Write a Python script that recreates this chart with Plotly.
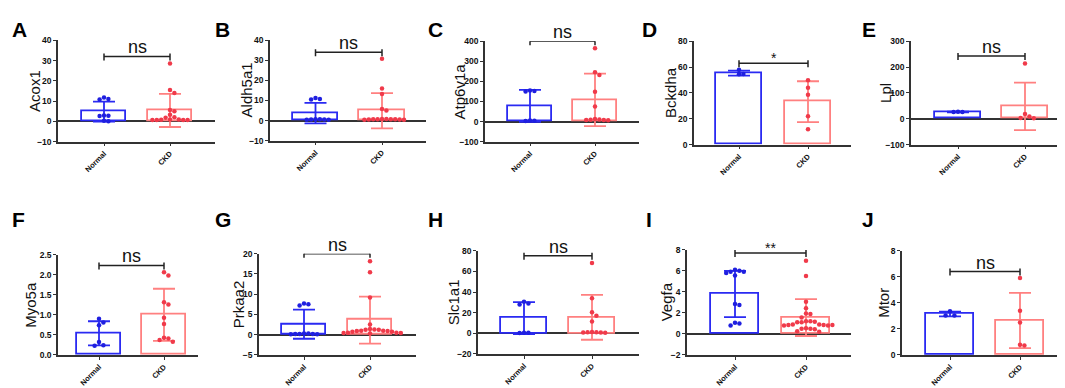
import math
import plotly.graph_objects as go

# ---------------- data ----------------
genes = ["Acox1", "Aldh5a1", "Atp6v1a", "Bckdha", "Lpl",
         "Myo5a", "Prkaa2", "Slc1a1", "Vegfa", "Mtor"]
letters = ["A", "B", "C", "D", "E", "F", "G", "H", "I", "J"]
groups = ["Normal", "CKD"]

acox1_normal = [11.8, 10.8, 11.0, 2.8, 2.6, 2.9, 0.1, 0.3]
acox1_ckd = [28.6, 15.5, 14.0, 5.6, 5.0, 3.2, 2.0, 1.8, 0.9, 0.7, 0.6, 0.8, 0.7, 0.9, 0.6]
aldh5a1_normal = [10.5, 10.7, 11.2, 0.5, 0.4, 0.6, 0.5, 0.4, 0.6]
aldh5a1_ckd = [30.8, 16.0, 13.2, 5.7, 5.0, 0.8, 0.5, 0.7, 0.4, 0.6, 0.5, 0.7, 0.6, 0.4, 0.8]
atp6v1a_normal = [155, 150, 152, 4, 3, 5]
atp6v1a_ckd = [365, 245, 232, 148, 75, 12, 8, 10, 6, 9, 7]
bckdha_normal = [57.9, 54.6, 54.4]
bckdha_ckd = [49.8, 44.0, 38.5, 21.9, 11.8]
lpl_normal = [26, 27, 26]
lpl_ckd = [214, 18, 9, 3, 2]
myo5a_normal = [0.90, 0.81, 0.74, 0.32, 0.23, 0.24]
myo5a_ckd = [2.06, 1.98, 1.31, 1.26, 0.93, 0.77, 0.41, 0.43, 0.33, 0.37]
prkaa2_normal = [7.5, 7.2, 7.7, 0.3, 0.2, 0.1, 0.3, 0.2, 0.1, 0.2]
prkaa2_ckd = [18.1, 15.4, 9.2, 2.5, 1.3, 1.2, 1.0, 0.9, 0.7, 0.5, 0.4, 0.3, 0.4,
              0.5, 0.7, 0.9, 1.0, 1.2, 1.4]
slc1a1_normal = [29.0, 28.0, 30.5, 0.5, 0.3, 0.6]
slc1a1_ckd = [68, 34, 20.5, 17, 11.5, 1.2, 0.8, 1.0, 0.6, 1.1, 0.9]
vegfa_normal = [6.1, 5.9, 6.0, 5.8, 5.9, 5.55, 2.75, 2.85, 1.05, 0.8, 1.0]
vegfa_ckd = [6.95, 5.5, 3.05, 2.45, 1.95, 1.55, 1.9, 1.2, 1.1, 1.15, 1.2, 1.1, 0.85,
             0.9, 0.8, 0.85, 0.9, 0.8, 0.85, 0.5, 0.55, 0.5, 0.45, 0.25, 0.2]
mtor_normal = [3.35, 3.03, 3.03]
mtor_ckd = [5.9, 3.4, 2.5, 0.73, 0.78]

normal_points = [acox1_normal, aldh5a1_normal, atp6v1a_normal, bckdha_normal, lpl_normal,
                 myo5a_normal, prkaa2_normal, slc1a1_normal, vegfa_normal, mtor_normal]
ckd_points = [acox1_ckd, aldh5a1_ckd, atp6v1a_ckd, bckdha_ckd, lpl_ckd,
              myo5a_ckd, prkaa2_ckd, slc1a1_ckd, vegfa_ckd, mtor_ckd]

mean_normal = [4.8, 3.7, 78, 55.3, 26, 0.54, 2.6, 14.8, 3.8, 3.14]
sd_normal = [4.9, 5.1, 80, 2.0, 1.2, 0.30, 3.6, 15.5, 2.2, 0.18]
mean_ckd = [5.4, 4.9, 108, 33.2, 48, 1.0, 3.6, 15.5, 1.55, 2.65]
sd_ckd = [8.2, 8.8, 131, 15.8, 92, 0.65, 5.8, 21.7, 1.75, 2.12]

sig_labels = ["ns", "ns", "ns", "*", "ns", "ns", "ns", "ns", "**", "ns"]
sig_level = [32, 34, 400, 63, 243, 2.23, 20, 75, 7.7, 6.4]

y_ranges = [(-10, 40), (-10, 40), (-100, 400), (0, 80), (-100, 300),
            (0, 2.5), (-5, 20), (-20, 80), (-2, 8), (0, 8)]
y_dticks = [10, 10, 100, 20, 100, 0.5, 5, 20, 2, 2]
y_formats = ["", "", "", "", "", ".1f", "", "", "", ""]

# ---------------- layout geometry (pixels) ----------------
W, H = 1065, 388
# x0, x1, ytop, ybot, centre Normal, centre CKD, title x, letter x, letter y
geom = [
    (50, 207, 28, 132, 96, 162, 27, 2, 3),
    (262, 418, 28, 131, 307.5, 374, 238, 205, 3),
    (477, 631, 29, 132, 522, 587, 451, 418, 3),
    (686, 843, 29, 135, 731, 800, 663, 632, 3),
    (903, 1062, 29, 135, 950, 1017, 878, 852, 3),
    (50, 190, 248, 351, 91, 156, 23, 2, 198),
    (251, 408, 247, 351, 296, 362, 230, 205, 198),
    (470, 631, 244, 350, 516, 584, 445, 418, 198),
    (679, 843, 243, 351, 727, 798, 658, 636, 198),
    (894, 1060, 244, 351, 942, 1012, 876, 852, 198),
]

BLUE_LINE = "#2a2af2"
BLUE_DOT = "#1f1fe0"
RED_LINE = "#ff8080"
RED_DOT = "#f03a4a"
AXC = "#333333"
FONT = "Liberation Sans, Arial, sans-serif"

MARK = 4.5
STEP = 4.4


def beeswarm(values, ppx, ppy):
    placed = []
    order = sorted(range(len(values)), key=lambda i: -values[i])
    offs = [0.0] * len(values)
    for i in order:
        yp = values[i] * ppy
        k = 0
        while True:
            cands = [0] if k == 0 else [k, -k]
            ok_c = None
            for c in cands:
                xp = c * STEP
                if all((xp - a) ** 2 + (yp - b) ** 2 >= STEP ** 2 for a, b in placed):
                    ok_c = xp
                    break
            if ok_c is not None:
                placed.append((ok_c, yp))
                offs[i] = ok_c / ppx
                break
            k += 1
    return offs


fig = go.Figure()
layout = dict(width=W, height=H, margin=dict(l=0, r=0, t=0, b=0),
              paper_bgcolor="white", plot_bgcolor="white", showlegend=False,
              bargap=0, barmode="overlay")
shapes = []
annotations = []

for p in range(10):
    x0, x1, yt, yb, cN, cC, tx, lx, ly = geom[p]
    unit = cC - cN
    xr = [-(cN - x0) / unit, 1 + (x1 - cC) / unit]
    yr = y_ranges[p]
    ppy = (yb - yt) / (yr[1] - yr[0])
    sfx = "" if p == 0 else str(p + 1)
    xa, ya = "x" + sfx, "y" + sfx

    layout["xaxis" + sfx] = dict(
        domain=[x0 / W, x1 / W], range=xr, anchor=ya, showgrid=False, zeroline=False,
        showline=True, linecolor=AXC, linewidth=1.5, ticks="outside", ticklen=3,
        tickwidth=1.2, tickcolor=AXC, tickvals=[0, 1], ticktext=groups, tickangle=-45,
        tickfont=dict(family=FONT, size=7.5, color="#111", weight="bold"), fixedrange=True)
    layout["yaxis" + sfx] = dict(
        domain=[1 - yb / H, 1 - yt / H], range=list(yr), anchor=xa, showgrid=False,
        zeroline=yr[0] < 0, zerolinecolor=AXC, zerolinewidth=1.5,
        showline=True, linecolor=AXC, linewidth=1.5, ticks="outside", ticklen=3,
        tickwidth=1.2, tickcolor=AXC, dtick=y_dticks[p], tick0=0, tickformat=y_formats[p],
        tickfont=dict(family=FONT, size=8.5, color="#111", weight="bold"), fixedrange=True)

    for gi, (mean, sd, pts, lc, dc) in enumerate([
            (mean_normal[p], sd_normal[p], normal_points[p], BLUE_LINE, BLUE_DOT),
            (mean_ckd[p], sd_ckd[p], ckd_points[p], RED_LINE, RED_DOT)]):
        fig.add_trace(go.Bar(
            x=[gi], y=[mean], width=0.68, xaxis=xa, yaxis=ya,
            marker=dict(color="rgba(255,255,255,0)", line=dict(color=lc, width=1.8)),
            error_y=dict(type="data", array=[sd], visible=True, color=lc,
                         thickness=1.8, width=11)))
        offs = beeswarm(pts, unit, ppy)
        fig.add_trace(go.Scatter(
            x=[gi + o for o in offs], y=pts, mode="markers", xaxis=xa, yaxis=ya,
            marker=dict(size=MARK, color=dc, line=dict(width=0)), cliponaxis=False))

    # significance bracket
    h = sig_level[p]
    shapes.append(dict(type="line", xref=xa, yref=ya, x0=0, x1=1, y0=h, y1=h,
                       line=dict(color="#222", width=1.5)))
    for xe in (0, 1):
        shapes.append(dict(type="line", xref=xa, yref=ya, x0=xe, x1=xe,
                           ysizemode="pixel", yanchor=h, y0=-4, y1=3,
                           line=dict(color="#222", width=1.5)))
    big = sig_labels[p] == "ns"
    annotations.append(dict(
        x=0.5, y=h, xref=xa, yref=ya, text=sig_labels[p], showarrow=False,
        yanchor="bottom", yshift=-3 if big else -5,
        font=dict(family=FONT, size=18 if big else 14, color="#111")))
    # y-axis title
    annotations.append(dict(
        x=tx / W, y=1 - (yt + yb) / 2 / H, xref="paper", yref="paper", text=genes[p],
        textangle=-90, showarrow=False, xanchor="center", yanchor="middle",
        font=dict(family=FONT, size=15, color="#111")))
    # panel letter
    annotations.append(dict(
        x=lx / W, y=1 - ly / H, xref="paper", yref="paper", text=letters[p],
        showarrow=False, xanchor="left", yanchor="top",
        font=dict(family=FONT, size=21, color="#000", weight="bold")))

layout["shapes"] = shapes
layout["annotations"] = annotations
fig.update_layout(**layout)
fig.write_html("out.html")
